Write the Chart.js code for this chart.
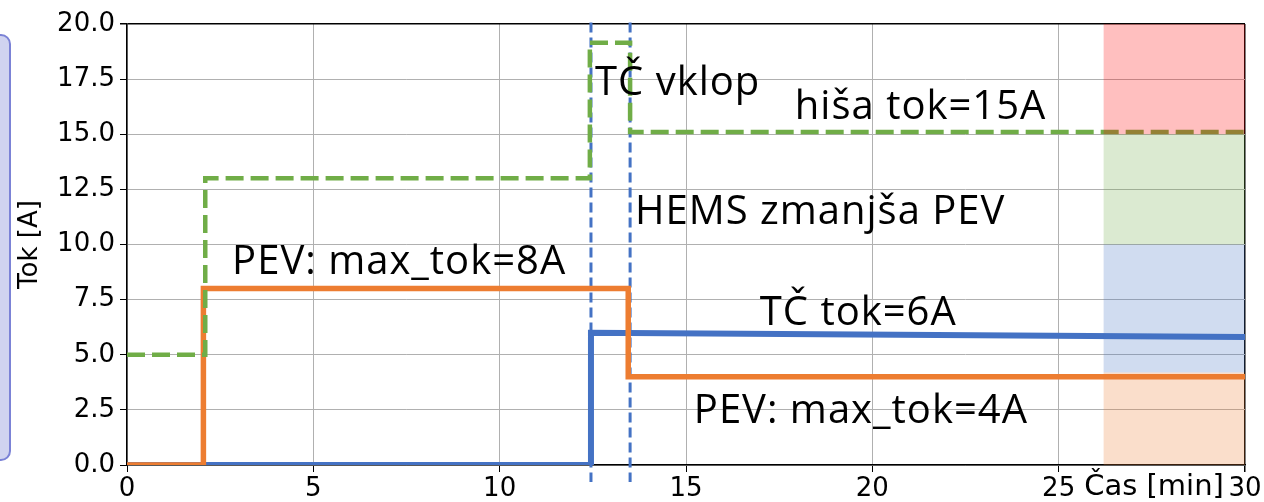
<!DOCTYPE html>
<html>
<head>
<meta charset="utf-8">
<script src="https://cdn.jsdelivr.net/npm/chart.js@4/dist/chart.umd.min.js"></script>
<style>
  html, body { margin: 0; padding: 0; background: #fff; }
  #wrap { width: 1264px; height: 502px; }
</style>
</head>
<body>
<div id="wrap"><canvas id="chart"></canvas></div>
<script>
// TČ (toplotna črpalka) tok
const tcX = [0, 12.45, 12.45, 30];
const tcY = [0, 0, 6, 5.8];
// PEV polnilni tok
const pevX = [0, 2.05, 2.05, 13.45, 13.45, 30];
const pevY = [0, 0, 8, 8, 4, 4];
// hiša skupni tok
const hisaX = [0, 2.1, 2.1, 12.42, 12.42, 13.5, 13.5, 30];
const hisaY = [5, 5, 13, 13, 19.15, 19.15, 15.1, 15.1];
// dogodki (vklop TČ, HEMS odziv)
const eventX = [12.45, 13.5];
const eventYRange = [20.07, -0.77];
// pasovi na desni
const bandX = [26.2, 30];
const bandLevels = [0, 4.2, 10, 15, 20];
const bandColors = ['rgba(237,125,49,0.25)', 'rgba(68,114,196,0.25)', 'rgba(112,173,71,0.25)', 'rgba(255,0,0,0.25)'];
// oznake
const noteText = ['PEV: max_tok=8A', 'TČ vklop', 'hiša tok=15A', 'HEMS zmanjša PEV', 'TČ tok=6A', 'PEV: max_tok=4A'];
const noteX = [2.82, 12.56, 17.92, 13.63, 16.98, 15.21];
const noteY = [8.66, 16.78, 15.69, 10.93, 6.35, 1.90];
// osi
const xTicks = [0, 5, 10, 15, 20, 25, 30];
const yMin = 0, yMax = 20, yStep = 2.5;

const pts = (xs, ys) => xs.map((x, i) => ({ x, y: ys[i] }));

const datasets = [];
bandColors.forEach((c, i) => {
  datasets.push({
    data: pts(bandX, [bandLevels[i + 1], bandLevels[i + 1]]),
    borderWidth: 0,
    pointRadius: 0,
    backgroundColor: c,
    fill: { value: bandLevels[i] }
  });
});
datasets.push({ data: pts(hisaX, hisaY), borderColor: '#70ad47', borderWidth: 4.5, borderDash: [18, 7], pointRadius: 0, fill: false });
datasets.push({ data: pts(pevX, pevY), borderColor: '#ed7d31', borderWidth: 5.5, pointRadius: 0, fill: false });
datasets.push({ data: pts(tcX, tcY), borderColor: '#4472c4', borderWidth: 6, pointRadius: 0, fill: false });
eventX.forEach(x => {
  datasets.push({
    data: pts([x, x], eventYRange),
    borderColor: '#4472c4', borderWidth: 3, borderDash: [10, 5],
    pointRadius: 0, fill: false, clip: false
  });
});

const extras = {
  id: 'extras',
  beforeDraw(chart) {
    const ctx = chart.ctx;
    ctx.save();
    ctx.beginPath();
    ctx.roundRect(-20, 35, 30, 425, 9);
    ctx.fillStyle = '#d0d3f0';
    ctx.fill();
    ctx.lineWidth = 2;
    ctx.strokeStyle = '#7b82d6';
    ctx.stroke();
    ctx.restore();
  },
  afterDraw(chart) {
    const ctx = chart.ctx;
    const xs = chart.scales.x, ys = chart.scales.y;
    ctx.save();
    ctx.fillStyle = '#000';
    ctx.font = '40px "Open Sans"';
    ctx.letterSpacing = '1px';
    ctx.textBaseline = 'alphabetic';
    ctx.textAlign = 'left';
    noteText.forEach((t, i) => {
      ctx.fillText(t, xs.getPixelForValue(noteX[i]), ys.getPixelForValue(noteY[i]));
    });
    ctx.letterSpacing = '0px';
    ctx.font = '29px "DejaVu Sans"';
    ctx.textAlign = 'center';
    ctx.fillText('Čas [min]', 1154, 495);
    ctx.restore();
  }
};

new Chart(document.getElementById('chart'), {
  type: 'line',
  data: { datasets },
  plugins: [extras],
  options: {
    responsive: true,
    maintainAspectRatio: false,
    animation: false,
    layout: { padding: { left: 0, right: 19, top: 24, bottom: 0 } },
    plugins: { legend: { display: false }, tooltip: { enabled: false } },
    scales: {
      x: {
        type: 'linear', min: 0, max: 30,
        afterFit: s => { s.height = 37; },
        afterBuildTicks: s => { s.ticks = xTicks.map(v => ({ value: v })); },
        ticks: { color: '#000', font: { family: 'DejaVu Sans', size: 26 }, padding: 2, maxRotation: 0 },
        grid: {
          color: c => (c.tick && c.tick.value === 30 ? '#000' : '#b0b0b0'),
          lineWidth: c => (c.tick && c.tick.value === 30 ? 1.5 : 1),
          tickColor: '#000', tickLength: 7
        },
        border: { color: '#000', width: 1.5 }
      },
      y: {
        min: yMin, max: yMax,
        afterFit: s => { s.width = 127; },
        ticks: { stepSize: yStep, color: '#000', font: { family: 'DejaVu Sans', size: 26 }, padding: 5, callback: v => v.toFixed(1) },
        grid: {
          color: c => (c.tick && c.tick.value === 20 ? '#000' : '#b0b0b0'),
          lineWidth: c => (c.tick && c.tick.value === 20 ? 1.5 : 1),
          tickColor: '#000', tickLength: 7
        },
        border: { color: '#000', width: 1.5 },
        title: { display: true, text: 'Tok [A]', color: '#000', font: { family: 'DejaVu Sans', size: 26 }, padding: { top: 15, bottom: 0 } }
      }
    }
  }
});
</script>
</body>
</html>
